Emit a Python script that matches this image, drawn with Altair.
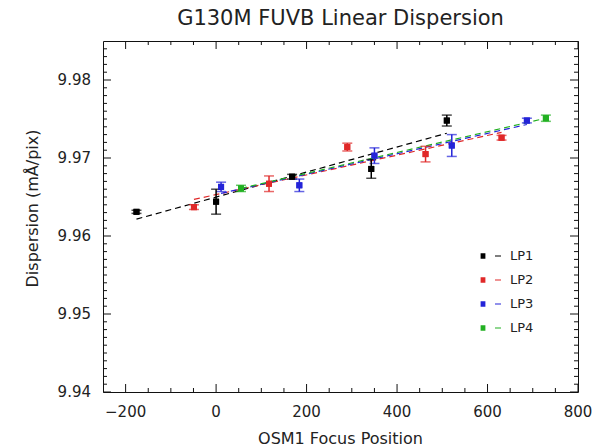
import altair as alt
import pandas as pd

# ---------------- data ----------------
series = ["LP1", "LP2", "LP3", "LP4"]
colors = ["#000000", "#e02828", "#2424d8", "#22b022"]

lp1_x = [-176, 0, 168, 343, 510]
lp1_y = [9.9631, 9.9644, 9.9676, 9.9686, 9.9748]
lp1_e = [0.0002, 0.0016, 0.0003, 0.0012, 0.0007]

lp2_x = [-49, 117, 290, 463, 631]
lp2_y = [9.9637, 9.9667, 9.9714, 9.9705, 9.9726]
lp2_e = [0.0003, 0.0010, 0.0005, 0.0010, 0.0003]

lp3_x = [11, 184, 350, 521, 687]
lp3_y = [9.9663, 9.9665, 9.9703, 9.9716, 9.9748]
lp3_e = [0.0006, 0.0008, 0.0010, 0.0014, 0.0003]

lp4_x = [55, 729]
lp4_y = [9.9661, 9.9751]
lp4_e = [0.0004, 0.0004]

x_major = [-200, 0, 200, 400, 600, 800]
x_minor = [-150, -100, -50, 50, 100, 150, 250, 300, 350, 450, 500, 550, 650, 700, 750]
y_major = [9.94, 9.95, 9.96, 9.97, 9.98]
y_minor = [9.941, 9.942, 9.943, 9.944, 9.945, 9.946, 9.947, 9.948, 9.949,
           9.951, 9.952, 9.953, 9.954, 9.955, 9.956, 9.957, 9.958, 9.959,
           9.961, 9.962, 9.963, 9.964, 9.965, 9.966, 9.967, 9.968, 9.969,
           9.971, 9.972, 9.973, 9.974, 9.975, 9.976, 9.977, 9.978, 9.979,
           9.981, 9.982, 9.983, 9.984]

title_text = "G130M FUVB Linear Dispersion"
x_title = "OSM1 Focus Position"
y_title = "Dispersion  (mÅ/pix)"

rows = []
for name, xs_, ys_, es_ in [("LP1", lp1_x, lp1_y, lp1_e), ("LP2", lp2_x, lp2_y, lp2_e),
                            ("LP3", lp3_x, lp3_y, lp3_e), ("LP4", lp4_x, lp4_y, lp4_e)]:
    for xv, yv, ev in zip(xs_, ys_, es_):
        rows.append({"lp": name, "x": xv, "y": yv, "ylo": yv - ev, "yhi": yv + ev})
df = pd.DataFrame(rows)

W, H = 475, 351
FONT = "DejaVu Sans"
TXT = "#222222"
TICK = "#111111"

xs = alt.Scale(domain=[-250, 800], nice=False, zero=False)
ys = alt.Scale(domain=[9.94, 9.985], nice=False, zero=False)
cs = alt.Scale(domain=series, range=colors)

legend_path = "M-0.95,-0.22H-0.55V0.22H-0.95Z M0.25,-0.05H0.75V0.05H0.25Z"
legend = alt.Legend(title=None, orient="none", legendX=377, legendY=203,
                    symbolType=legend_path, symbolSize=576,
                    symbolStrokeWidth=0, labelFont=FONT, labelFontSize=13,
                    labelColor=TXT, labelOffset=6, rowPadding=5, padding=0)

base = alt.Chart(df)

points = base.mark_point(filled=True, shape="square", size=36, opacity=1).encode(
    x=alt.X("x:Q", scale=xs, axis=None),
    y=alt.Y("y:Q", scale=ys, axis=None),
    color=alt.Color("lp:N", scale=cs, legend=legend),
)

lines = base.transform_regression("x", "y", groupby=["lp"]).mark_line(
    strokeDash=[6, 4], strokeWidth=1.2
).encode(
    x=alt.X("x:Q", scale=xs, axis=None),
    y=alt.Y("y:Q", scale=ys, axis=None),
    color=alt.Color("lp:N", scale=cs, legend=None),
)

bars = base.mark_errorbar(ticks={"size": 10}, thickness=1.5).encode(
    x=alt.X("x:Q", scale=xs, axis=None),
    y=alt.Y("ylo:Q", scale=ys, axis=None),
    y2="yhi:Q",
    color=alt.Color("lp:N", scale=cs, legend=None),
)


def xticks(values, length, side):
    d = pd.DataFrame({"v": values})
    if side == "bottom":
        y0, y1 = H, H - length
    else:
        y0, y1 = 0, length
    return alt.Chart(d).mark_rule(color=TICK, strokeWidth=1).encode(
        x=alt.X("v:Q", scale=xs, axis=None), y=alt.value(y0), y2=alt.value(y1))


def yticks(values, length, side):
    d = pd.DataFrame({"v": values})
    if side == "left":
        x0, x1 = 0, length
    else:
        x0, x1 = W, W - length
    return alt.Chart(d).mark_rule(color=TICK, strokeWidth=1).encode(
        y=alt.Y("v:Q", scale=ys, axis=None), x=alt.value(x0), x2=alt.value(x1))


tick_layers = [
    xticks(x_major, 8, "bottom"), xticks(x_minor, 4, "bottom"),
    xticks(x_major, 8, "top"), xticks(x_minor, 4, "top"),
    yticks(y_major, 8, "left"), yticks(y_minor, 4, "left"),
    yticks(y_major, 8, "right"), yticks(y_minor, 4, "right"),
]

x_labels = alt.Chart(pd.DataFrame({"v": x_major})).mark_text(
    font=FONT, fontSize=15, color=TXT, baseline="middle", align="center"
).encode(
    x=alt.X("v:Q", scale=xs, axis=None), y=alt.value(H + 20),
    text=alt.Text("v:Q", format="d"),
)

y_labels = alt.Chart(pd.DataFrame({"v": y_major})).mark_text(
    font=FONT, fontSize=15, color=TXT, baseline="middle", align="right"
).encode(
    y=alt.Y("v:Q", scale=ys, axis=None), x=alt.value(-12),
    text=alt.Text("v:Q", format=".2f"),
)

x_title_layer = alt.Chart(pd.DataFrame({"t": [x_title]})).mark_text(
    font=FONT, fontSize=16, color=TXT, baseline="middle", align="center"
).encode(x=alt.value(W / 2), y=alt.value(H + 47), text="t:N")

y_title_layer = alt.Chart(pd.DataFrame({"t": [y_title]})).mark_text(
    font=FONT, fontSize=16, color=TXT, baseline="middle", align="center", angle=270
).encode(x=alt.value(-70), y=alt.value(H / 2 - 8), text="t:N")

chart = alt.layer(
    points, lines, bars, *tick_layers, x_labels, y_labels, x_title_layer,
    y_title_layer, points
).properties(
    width=W, height=H,
    title=alt.TitleParams(title_text, font=FONT, fontSize=21,
                          fontWeight="normal", color=TXT, offset=12),
    autosize=alt.AutoSizeParams(type="none"),
    padding={"left": 103, "top": 41, "right": 19, "bottom": 56},
    background="white",
).configure_view(stroke=TICK, strokeWidth=1)

chart.save("out.html", embed_options={"renderer": "svg", "actions": False})
